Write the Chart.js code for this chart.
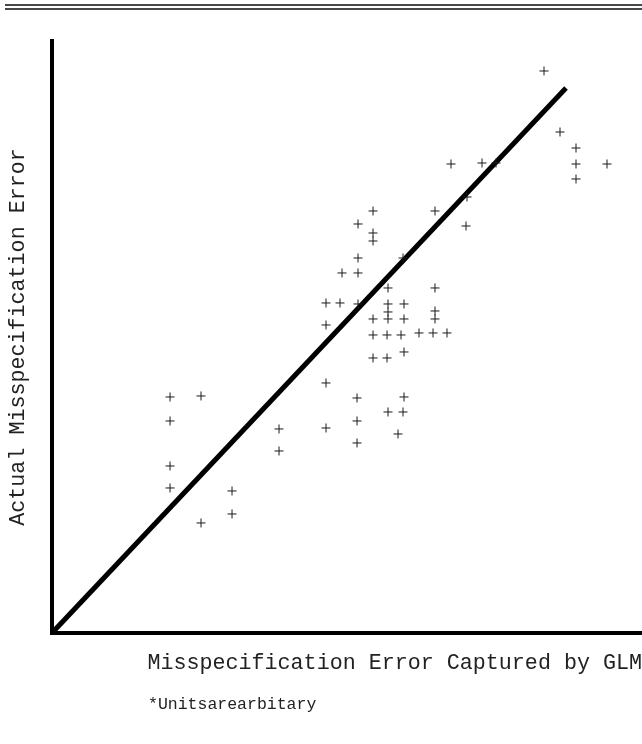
<!DOCTYPE html>
<html>
<head>
<meta charset="utf-8">
<script src="https://cdn.jsdelivr.net/npm/chart.js@4"></script>
<style>
  html, body { margin: 0; padding: 0; background: #fff; overflow: hidden; }
  #wrap { position: relative; width: 642px; height: 744px; overflow: hidden; }
  #glmChart { position: absolute; left: 0; top: 0; display: block; }
  .rule { position: absolute; left: 5px; width: 637px; height: 2px; background: #484848; }
  #note { position: absolute; left: 148px; top: 695px; font: 16.5px "Liberation Mono", monospace; color: #222; white-space: pre; }
</style>
</head>
<body>
<div id="wrap">
  <canvas id="glmChart" width="642" height="744"></canvas>
  <div class="rule" style="top:4px"></div>
  <div class="rule" style="top:8px"></div>
  <div id="note">*Unitsarearbitary</div>
</div>
<script>
// scatter points (arbitrary units)
const xVals = [492, 508, 524, 524, 524, 555, 399, 430, 444, 415, 383, 414,
  321, 306, 321, 321, 306, 351, 290, 306, 336, 383, 274, 288, 306, 336, 352,
  336, 383, 383, 321, 336, 352, 274, 321, 335, 349, 367, 381, 395, 352, 321,
  335, 274, 305, 352, 336, 351, 305, 274, 346, 305, 118, 149, 118, 227, 227,
  118, 118, 180, 180, 149];
const yVals = [562, 501, 485, 469, 454, 469, 469, 470, 470, 436, 422, 407,
  422, 409, 400, 392, 375, 375, 360, 360, 345, 345, 330, 330, 329, 329, 329,
  321, 322, 314, 314, 314, 314, 308, 298, 298, 298, 300, 300, 300, 281, 275,
  275, 250, 235, 236, 221, 221, 212, 205, 199, 190, 236, 237, 212, 204, 182,
  167, 145, 142, 119, 110];

// the fitted line
const fitX = [0, 514];
const fitY = [0, 545];

const xLabel = "Misspecification Error Captured by GLM";
const yLabel = "Actual Misspecification Error";

const points = xVals.map((x, i) => ({ x: x, y: yVals[i] }));
const fitLine = fitX.map((x, i) => ({ x: x, y: fitY[i] }));

const axisFont = { family: "Liberation Mono", size: 21.7 };

new Chart(document.getElementById("glmChart"), {
  type: "scatter",
  data: {
    datasets: [{
      label: "Observed",
      data: points,
      pointStyle: "cross",
      pointRadius: 4.5,
      pointHoverRadius: 4.5,
      borderColor: "#1a1a1a",
      borderWidth: 1,
    }, {
      label: "Fit",
      type: "line",
      data: fitLine,
      borderColor: "#000",
      borderWidth: 5,
      pointRadius: 0,
      fill: false,
    }],
  },
  options: {
    responsive: false,
    animation: false,
    devicePixelRatio: 1,
    layout: {
      autoPadding: false, // otherwise the plot stops ~5px short of the right edge
      padding: { left: 1, right: 0, top: 41, bottom: 68 }
    },
    scales: {
      x: {
        type: "linear",
        min: 0,
        max: 590,
        grid: { display: false, drawTicks: false },
        border: { display: true, color: "#000", width: 4 },
        ticks: { display: false },
        title: {
          display: true,
          text: xLabel,
          align: "end",
          color: "#222",
          font: axisFont,
          padding: { top: 17, bottom: 0 }
        }
      },
      y: {
        type: "linear",
        min: 0,
        max: 592,
        grid: { display: false, drawTicks: false },
        border: { display: true, color: "#000", width: 4 },
        ticks: { display: false },
        title: {
          display: true,
          text: yLabel,
          color: "#222",
          font: axisFont,
          padding: { top: 4, bottom: 21 }
        }
      }
    },
    plugins: {
      legend: { display: false },
      tooltip: { enabled: false }
    }
  }
});
</script>
</body>
</html>
